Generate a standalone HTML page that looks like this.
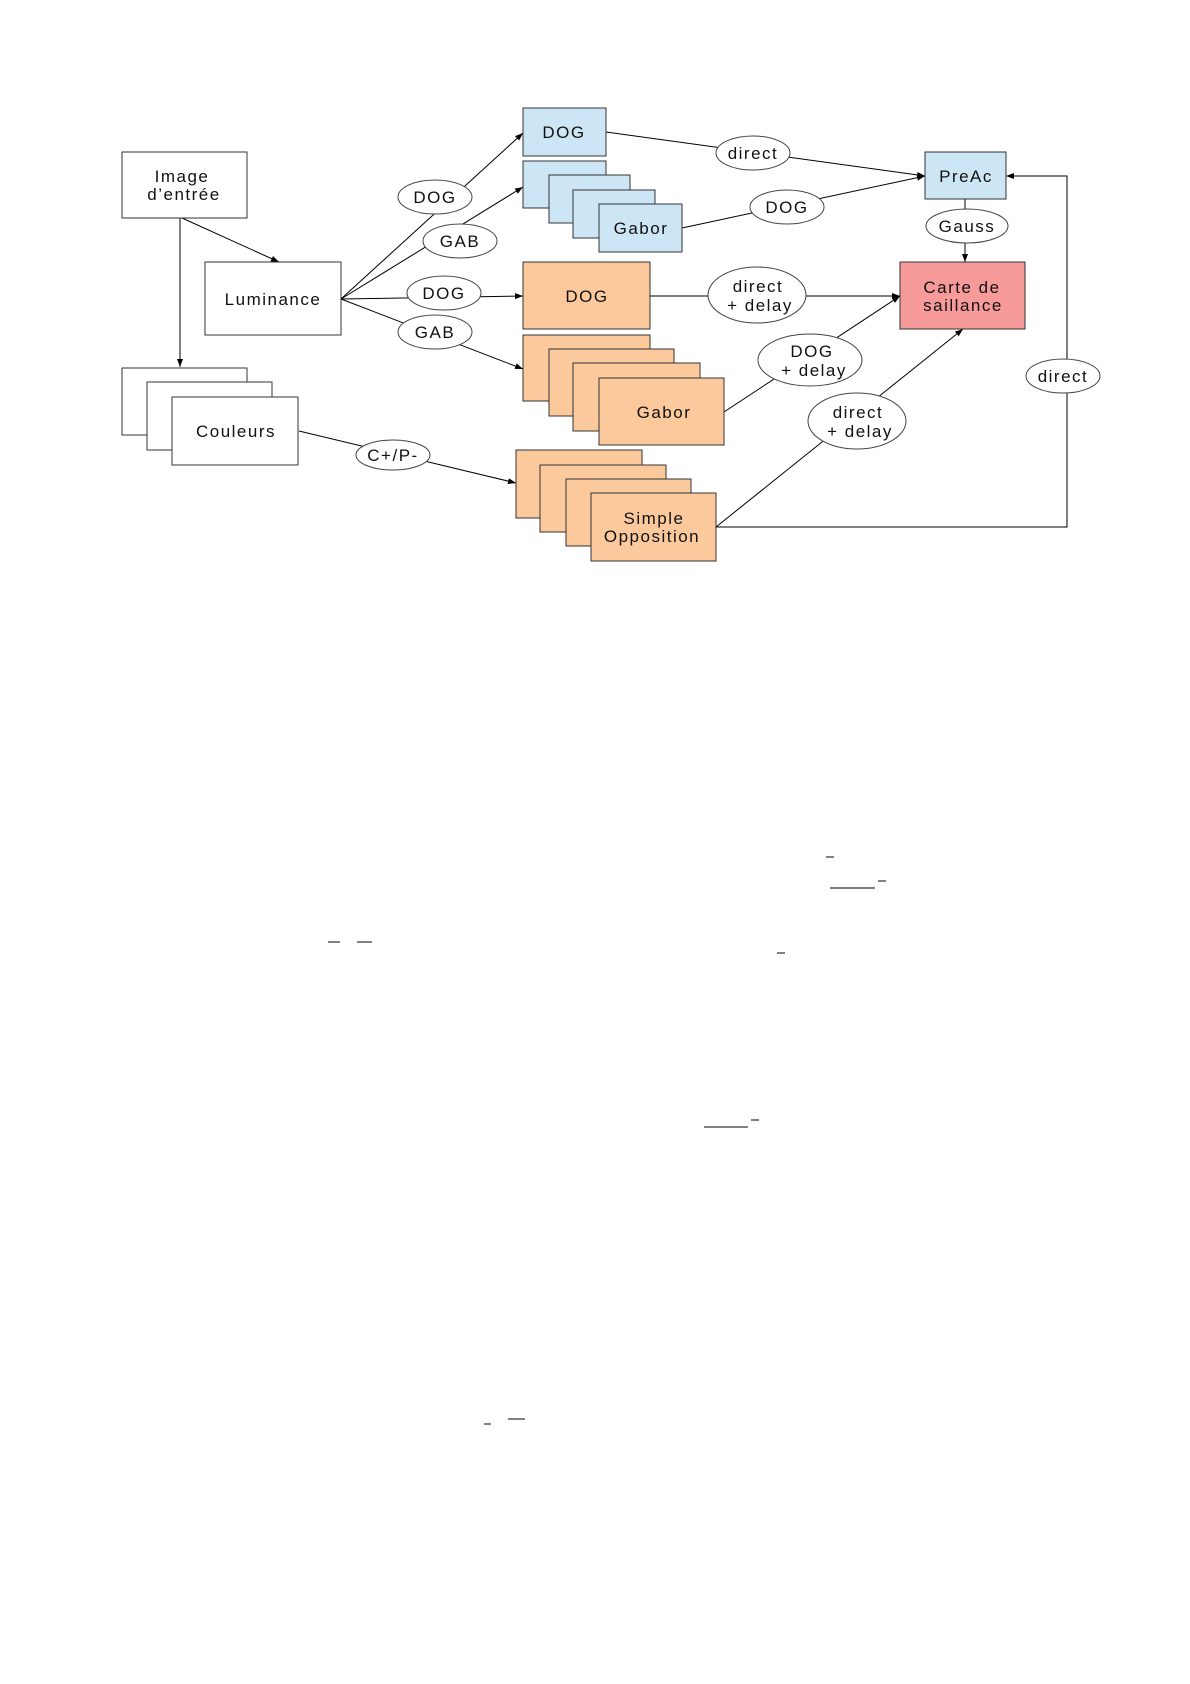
<!DOCTYPE html>
<html><head><meta charset="utf-8"><style>
html,body{margin:0;padding:0;background:#fff;}
svg{display:block;}
text{font-family:"Liberation Sans",sans-serif;font-size:17px;fill:#111;text-anchor:middle;letter-spacing:1.5px;}
</style></head><body>
<svg width="1190" height="1684" viewBox="0 0 1190 1684" xmlns="http://www.w3.org/2000/svg">
<defs><marker id="a" markerWidth="8" markerHeight="6" refX="8" refY="3" orient="auto" markerUnits="userSpaceOnUse"><path d="M0,0 L8,3 L0,6 z" fill="#000"/></marker></defs>
<g stroke="#000" stroke-width="1" fill="none">
<line x1="180" y1="218" x2="180" y2="367" marker-end="url(#a)"/>
<line x1="182" y1="218" x2="279" y2="262" marker-end="url(#a)"/>
<line x1="341" y1="299" x2="523" y2="133" marker-end="url(#a)"/>
<line x1="341" y1="299" x2="523" y2="187" marker-end="url(#a)"/>
<line x1="341" y1="299" x2="523" y2="296" marker-end="url(#a)"/>
<line x1="341" y1="299" x2="523" y2="369" marker-end="url(#a)"/>
<line x1="299" y1="431" x2="516" y2="483" marker-end="url(#a)"/>
<line x1="606" y1="132" x2="925" y2="176" marker-end="url(#a)"/>
<line x1="682" y1="228" x2="925" y2="176" marker-end="url(#a)"/>
<line x1="965" y1="199" x2="965" y2="262" marker-end="url(#a)"/>
<line x1="650" y1="296" x2="900" y2="296" marker-end="url(#a)"/>
<line x1="724" y1="412" x2="900" y2="296" marker-end="url(#a)"/>
<line x1="716" y1="527" x2="963" y2="329" marker-end="url(#a)"/>
<polyline points="716,527 1067,527 1067,176 1006,176" marker-end="url(#a)"/>
<line x1="826" y1="857" x2="834" y2="857"/>
<line x1="830" y1="888" x2="875" y2="888"/>
<line x1="878" y1="881" x2="886" y2="881"/>
<line x1="328" y1="942" x2="340" y2="942"/>
<line x1="357" y1="942" x2="372" y2="942"/>
<line x1="777" y1="953" x2="785" y2="953"/>
<line x1="704" y1="1127" x2="748" y2="1127"/>
<line x1="751" y1="1120" x2="759" y2="1120"/>
<line x1="484" y1="1424" x2="491" y2="1424"/>
<line x1="508" y1="1419" x2="525" y2="1419"/>
</g>
<g stroke="#333" stroke-width="1">
<rect x="122" y="152" width="125" height="66" fill="#fff"/>
<rect x="205" y="262" width="136" height="73" fill="#fff"/>
<rect x="122" y="368" width="125" height="67" fill="#fff"/>
<rect x="147" y="382" width="125" height="68" fill="#fff"/>
<rect x="172" y="397" width="126" height="68" fill="#fff"/>
<rect x="523" y="108" width="83" height="48" fill="#cde6f5"/>
<rect x="523" y="161" width="83" height="47" fill="#cde6f5"/>
<rect x="549" y="175" width="81" height="48" fill="#cde6f5"/>
<rect x="573" y="190" width="82" height="48" fill="#cde6f5"/>
<rect x="599" y="204" width="83" height="48" fill="#cde6f5"/>
<rect x="925" y="152" width="81" height="47" fill="#cde6f5"/>
<rect x="900" y="262" width="125" height="67" fill="#f79a9a"/>
<rect x="523" y="262" width="127" height="67" fill="#fbc99c"/>
<rect x="523" y="335" width="127" height="66" fill="#fbc99c"/>
<rect x="549" y="349" width="125" height="67" fill="#fbc99c"/>
<rect x="573" y="363" width="127" height="68" fill="#fbc99c"/>
<rect x="599" y="378" width="125" height="67" fill="#fbc99c"/>
<rect x="516" y="450" width="126" height="68" fill="#fbc99c"/>
<rect x="540" y="465" width="126" height="67" fill="#fbc99c"/>
<rect x="566" y="479" width="125" height="67" fill="#fbc99c"/>
<rect x="591" y="493" width="125" height="68" fill="#fbc99c"/>
</g>
<g stroke="#444" stroke-width="1" fill="#fff">
<ellipse cx="435" cy="197" rx="37" ry="17"/>
<ellipse cx="460" cy="241" rx="37" ry="17"/>
<ellipse cx="444" cy="293" rx="37" ry="17"/>
<ellipse cx="435" cy="332" rx="37" ry="17"/>
<ellipse cx="393" cy="455" rx="37" ry="15"/>
<ellipse cx="753" cy="153" rx="37" ry="17"/>
<ellipse cx="787" cy="207" rx="37" ry="17"/>
<ellipse cx="967" cy="226" rx="41" ry="17"/>
<ellipse cx="757" cy="295" rx="49" ry="28"/>
<ellipse cx="810" cy="360" rx="52" ry="26"/>
<ellipse cx="857" cy="421" rx="49" ry="28"/>
<ellipse cx="1063" cy="376" rx="37" ry="17"/>
</g>
<text x="182" y="182">Image</text>
<text x="184" y="200">d’entrée</text>
<text x="273" y="305">Luminance</text>
<text x="236" y="437">Couleurs</text>
<text x="564" y="138">DOG</text>
<text x="641" y="234">Gabor</text>
<text x="966" y="182">PreAc</text>
<text x="962" y="293" fill="#700">Carte de</text>
<text x="963" y="311" fill="#700">saillance</text>
<text x="587" y="302">DOG</text>
<text x="664" y="418">Gabor</text>
<text x="654" y="524">Simple</text>
<text x="652" y="542">Opposition</text>
<text x="435" y="203">DOG</text>
<text x="460" y="247">GAB</text>
<text x="444" y="299">DOG</text>
<text x="435" y="338">GAB</text>
<text x="393" y="461">C+/P-</text>
<text x="753" y="159">direct</text>
<text x="787" y="213">DOG</text>
<text x="967" y="232">Gauss</text>
<text x="758" y="292">direct</text>
<text x="760" y="311">+ delay</text>
<text x="812" y="357">DOG</text>
<text x="814" y="376">+ delay</text>
<text x="858" y="418">direct</text>
<text x="860" y="437">+ delay</text>
<text x="1063" y="382">direct</text>
</svg>
</body></html>
